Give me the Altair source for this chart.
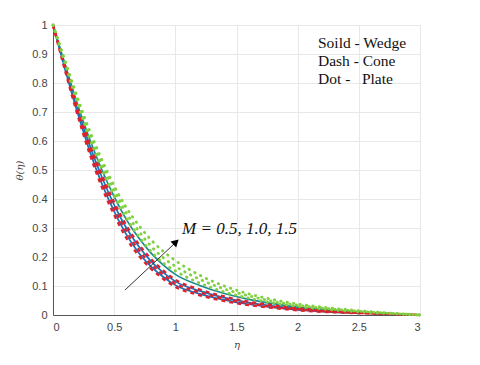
import altair as alt
import pandas as pd

# eta grid
eta = [0, 0.1, 0.2, 0.3, 0.4, 0.5, 0.6, 0.7, 0.8, 0.9, 1.0, 1.2, 1.4, 1.6, 1.8, 2.0, 2.25, 2.5, 2.75, 3.0]

# Wedge (solid)
wedge_m05 = [1.0, 0.845, 0.698, 0.565, 0.452, 0.357, 0.277, 0.215, 0.168, 0.132, 0.103, 0.073, 0.052, 0.037, 0.026, 0.018, 0.011, 0.007, 0.003, 0.0]
wedge_m10 = [1.0, 0.855, 0.712, 0.585, 0.475, 0.380, 0.300, 0.237, 0.186, 0.147, 0.116, 0.083, 0.060, 0.043, 0.031, 0.022, 0.014, 0.008, 0.004, 0.0]
wedge_m15 = [1.0, 0.862, 0.727, 0.606, 0.500, 0.408, 0.329, 0.266, 0.214, 0.173, 0.140, 0.102, 0.074, 0.054, 0.039, 0.027, 0.017, 0.010, 0.005, 0.0]
# Cone (dashed)
cone_m05 = [1.0, 0.840, 0.690, 0.555, 0.440, 0.345, 0.265, 0.205, 0.160, 0.125, 0.097, 0.068, 0.048, 0.034, 0.024, 0.016, 0.010, 0.006, 0.003, 0.0]
cone_m10 = [1.0, 0.850, 0.705, 0.575, 0.463, 0.368, 0.288, 0.225, 0.176, 0.139, 0.109, 0.078, 0.056, 0.040, 0.028, 0.020, 0.012, 0.007, 0.004, 0.0]
cone_m15 = [1.0, 0.858, 0.717, 0.592, 0.483, 0.389, 0.309, 0.245, 0.194, 0.154, 0.122, 0.088, 0.064, 0.046, 0.033, 0.023, 0.015, 0.009, 0.004, 0.0]
# Plate (dotted)
plate_m05 = [1.0, 0.865, 0.730, 0.610, 0.505, 0.413, 0.335, 0.272, 0.220, 0.180, 0.152, 0.110, 0.080, 0.058, 0.042, 0.030, 0.019, 0.011, 0.005, 0.0]
plate_m10 = [1.0, 0.870, 0.740, 0.622, 0.520, 0.430, 0.352, 0.290, 0.238, 0.198, 0.168, 0.123, 0.090, 0.066, 0.047, 0.034, 0.022, 0.013, 0.006, 0.0]
plate_m15 = [1.0, 0.875, 0.750, 0.635, 0.535, 0.445, 0.370, 0.310, 0.260, 0.220, 0.188, 0.137, 0.100, 0.073, 0.053, 0.038, 0.025, 0.015, 0.007, 0.0]

series = [
    ("Wedge", "W0.5", wedge_m05), ("Wedge", "W1.0", wedge_m10), ("Wedge", "W1.5", wedge_m15),
    ("Cone", "C0.5", cone_m05), ("Cone", "C1.0", cone_m10), ("Cone", "C1.5", cone_m15),
    ("Plate", "P0.5", plate_m05), ("Plate", "P1.0", plate_m10), ("Plate", "P1.5", plate_m15),
]
curve_names = [s[1] for s in series]
curve_colors = ["#1f6fb5", "#1f6fb5", "#1c8a8c",
                "#e0202a", "#e0202a", "#e0202a",
                "#80d040", "#80d040", "#80d040"]

legend_lines = ["Soild - Wedge", "Dash - Cone", "Dot -\u00a0\u00a0\u00a0Plate"]
m_label = "M = 0.5, 1.0, 1.5"
x_ticks = [0, 0.5, 1, 1.5, 2, 2.5, 3]
y_ticks = [0, 0.1, 0.2, 0.3, 0.4, 0.5, 0.6, 0.7, 0.8, 0.9, 1]

rows = []
for geom, name, vals in series:
    for e, v in zip(eta, vals):
        rows.append({"eta": e, "theta": v, "geom": geom, "curve": name})
df = pd.DataFrame(rows)

axis_common = dict(grid=True, gridColor="#e8e8e8", domainColor="#555555", ticks=False,
                   labelColor="#444444", labelFont="Liberation Sans", labelFontSize=11,
                   titleColor="#444444", titleFont="DejaVu Serif", titleFontStyle="italic",
                   titleFontWeight="normal", titleFontSize=10, format="~g")

base = alt.Chart(df).encode(
    x=alt.X("eta:Q", scale=alt.Scale(domain=[0, 3], nice=False),
            axis=alt.Axis(values=x_ticks, title="η", labelPadding=6, titlePadding=7, **axis_common)),
    y=alt.Y("theta:Q", scale=alt.Scale(domain=[0, 1], nice=False),
            axis=alt.Axis(values=y_ticks, title="θ(η)", labelPadding=6, titlePadding=7, **axis_common)),
    color=alt.Color("curve:N", scale=alt.Scale(domain=curve_names, range=curve_colors), legend=None),
)

wedge = base.transform_filter(alt.datum.geom == "Wedge").mark_line(strokeWidth=1.7, interpolate="monotone")
cone = base.transform_filter(alt.datum.geom == "Cone").mark_line(strokeWidth=2.3, strokeDash=[4, 4], interpolate="monotone")
plate = base.transform_filter(alt.datum.geom == "Plate").mark_line(strokeWidth=2.8, strokeDash=[0.5, 6], strokeCap="round", interpolate="monotone")

layers = [wedge, cone, plate]

for i, line in enumerate(legend_lines):
    layers.append(
        alt.Chart(pd.DataFrame({"t": [line]})).mark_text(
            font="Liberation Serif", fontSize=15.5, align="left", baseline="middle", color="#111111"
        ).encode(text="t:N", x=alt.value(265), y=alt.value(18 + 18 * i))
    )

layers.append(
    alt.Chart(pd.DataFrame({"t": [m_label]})).mark_text(
        font="Liberation Serif", fontSize=17, fontStyle="italic", align="left", baseline="middle", color="#111111"
    ).encode(text="t:N", x=alt.value(129), y=alt.value(204))
)

layers.append(
    alt.Chart(pd.DataFrame({"a": [0]})).mark_rule(color="#333333", strokeWidth=1).encode(
        x=alt.value(72), y=alt.value(265), x2=alt.value(121), y2=alt.value(219))
)
layers.append(
    alt.Chart(pd.DataFrame({"a": [0]})).mark_point(shape="triangle-up", filled=True, size=70, angle=47,
                                                   color="#000000", opacity=1).encode(
        x=alt.value(123), y=alt.value(217))
)

chart = alt.layer(*layers).properties(
    width=367, height=290,
    autosize=alt.AutoSizeParams(type="none"),
    padding={"left": 45, "top": 17, "right": 50, "bottom": 40},
).configure_view(stroke="#555555", strokeWidth=1).configure(background="white")

chart.save("out.html", embed_options={"renderer": "svg", "actions": False})
